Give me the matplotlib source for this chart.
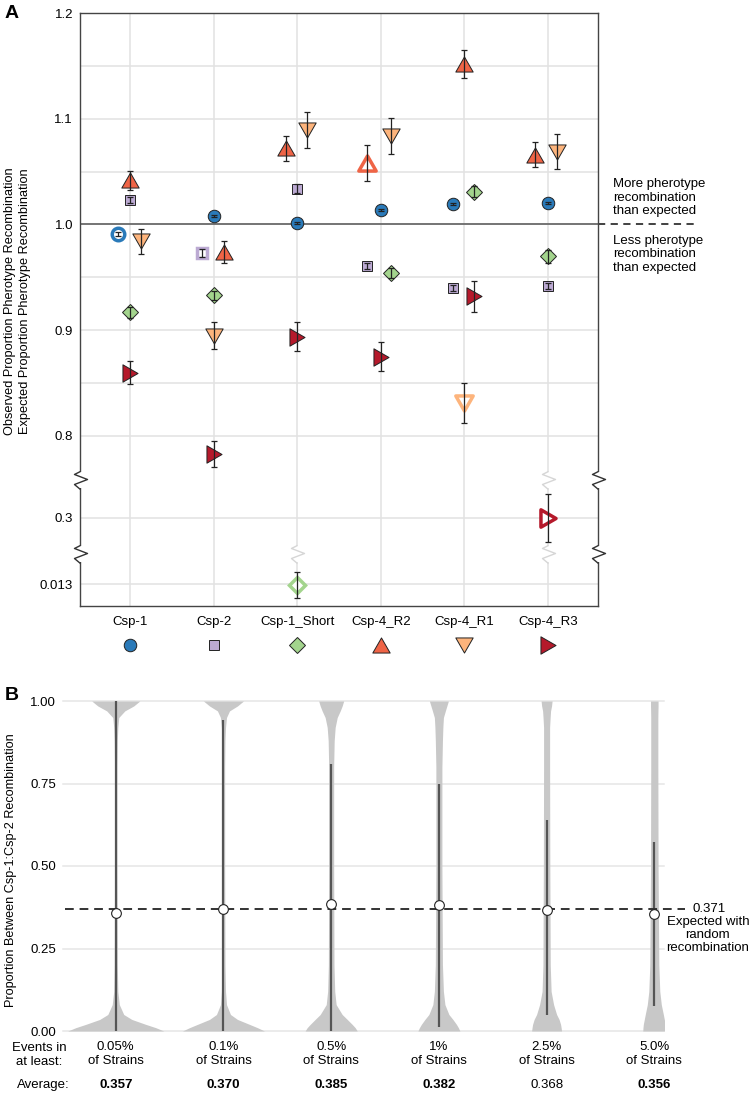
import numpy as np
import matplotlib.pyplot as plt
from matplotlib.path import Path

plt.rcParams["font.family"] = ["Liberation Sans", "DejaVu Sans"]
plt.rcParams["font.size"] = 9

# ---------------- panel A: observed / expected pherotype recombination
groups = ["Csp-1", "Csp-2", "Csp-1_Short", "Csp-4_R2", "Csp-4_R1", "Csp-4_R3"]

csp1_ratio = [0.991, 1.008, 1.001, 1.014, 1.019, 1.020]
csp1_err = [0.002, 0.001, 0.001, 0.001, 0.001, 0.001]
csp2_ratio = [1.023, 0.973, 1.034, 0.961, 0.940, 0.942]
csp2_err = [0.003, 0.004, 0.004, 0.003, 0.003, 0.003]
short_ratio = [0.917, 0.933, 0.012, 0.954, 1.031, 0.970]
short_err = [0.005, 0.004, 0.012, 0.005, 0.005, 0.006]
r2_ratio = [1.042, 0.974, 1.072, 1.058, 1.152, 1.066]
r2_err = [0.009, 0.010, 0.012, 0.017, 0.013, 0.012]
r1_ratio = [0.984, 0.895, 1.089, 1.084, 0.831, 1.069]
r1_err = [0.012, 0.013, 0.017, 0.017, 0.019, 0.017]
r3_ratio = [0.860, 0.783, 0.894, 0.875, 0.932, 0.300]
r3_err = [0.011, 0.012, 0.014, 0.014, 0.015, 0.023]

ticks_a = [0.013, 0.3, 0.8, 0.9, 1.0, 1.1, 1.2]
minor_a = [0.85, 0.95, 1.05, 1.15]

# ---------------- panel B: Csp-1:Csp-2 proportion
thresholds = ["0.05%", "0.1%", "0.5%", "1%", "2.5%", "5.0%"]
averages = [0.357, 0.370, 0.385, 0.382, 0.368, 0.356]
avg_bold = [True, True, True, True, False, True]
whisker_lo = [0.0, 0.0, 0.0, 0.012, 0.048, 0.076]
whisker_hi = [1.0, 0.942, 0.809, 0.748, 0.639, 0.573]
expected = 0.371

# violin half widths (in units of group spacing) read at these levels
violin_levels = [0, 0.01, 0.02, 0.035, 0.05, 0.08, 0.12, 0.2, 0.5, 0.8,
                 0.88, 0.92, 0.95, 0.97, 0.985, 1.0]
vw_005 = [0.446, 0.372, 0.279, 0.149, 0.074, 0.033, 0.019, 0.014, 0.011, 0.011,
          0.014, 0.019, 0.028, 0.084, 0.167, 0.223]
vw_01 = [0.381, 0.316, 0.242, 0.130, 0.065, 0.028, 0.019, 0.014, 0.011, 0.011,
         0.014, 0.019, 0.028, 0.056, 0.130, 0.186]
vw_05 = [0.242, 0.223, 0.195, 0.149, 0.102, 0.046, 0.033, 0.026, 0.023, 0.023,
         0.028, 0.037, 0.056, 0.084, 0.102, 0.116]
vw_1 = [0.195, 0.181, 0.163, 0.130, 0.093, 0.056, 0.042, 0.033, 0.028, 0.028,
        0.033, 0.037, 0.042, 0.060, 0.074, 0.088]
vw_25 = [0.139, 0.135, 0.130, 0.116, 0.093, 0.065, 0.042, 0.034, 0.030, 0.028,
         0.028, 0.028, 0.033, 0.037, 0.046, 0.051]
vw_5 = [0.107, 0.105, 0.102, 0.093, 0.084, 0.065, 0.051, 0.042, 0.035, 0.033,
        0.033, 0.033, 0.033, 0.034, 0.035, 0.035]
violin_widths = [vw_005, vw_01, vw_05, vw_1, vw_25, vw_5]


def tri(direction):
    # equilateral-ish triangle marker
    if direction == "up":
        v = [(0, 1), (-1.15, -1), (1.15, -1), (0, 1)]
    elif direction == "down":
        v = [(0, -1), (-1.15, 1), (1.15, 1), (0, -1)]
    else:
        v = [(1, 0), (-1, 1.15), (-1, -1.15), (1, 0)]
    return Path(v, closed=True)


# name, values, errors, marker, size, colour, dodge per group
series = [
    ("Csp-1", csp1_ratio, csp1_err, "o", 9, "#2a7ab9", [-0.14, 0, 0, 0, -0.14, 0]),
    ("Csp-2", csp2_ratio, csp2_err, "s", 7.5, "#bcaad3", [0, -0.14, 0, -0.16, -0.14, 0]),
    ("Csp-1_Short", short_ratio, short_err, "D", 7.7, "#a3d48d", [0, 0, 0, 0.12, 0.12, 0]),
    ("Csp-4_R2", r2_ratio, r2_err, tri("up"), 12.5, "#ef6446", [0, 0.12, -0.13, -0.16, 0, -0.155]),
    ("Csp-4_R1", r1_ratio, r1_err, tri("down"), 12.5, "#fdb47c", [0.13, 0, 0.12, 0.12, 0, 0.11]),
    ("Csp-4_R3", r3_ratio, r3_err, tri("right"), 12.5, "#b5192b", [0, 0, 0, 0, 0.12, 0]),
]

# broken y axis: three linear pieces glued together
brk_v = [-0.5, 0.0405, 0.266, 0.3355, 0.759, 2.0]
brk_p = [0.147, 0.6875, 0.6885, 0.758, 0.759, 2.0]


def fwd(v):
    return np.interp(v, brk_v, brk_p)


def inv(p):
    return np.interp(p, brk_p, brk_v)


gap_marks = [0.15, 0.55]  # values falling inside the two gaps
zig = Path([(0, 9), (-6, 6), (7, 1), (-6, -4), (0, -9)])

fig = plt.figure(figsize=(7.5, 10.94), dpi=100)

ax = fig.add_axes([80 / 750, 1 - 606 / 1094, 518 / 750, 593 / 1094])
ax.set_yscale("function", functions=(fwd, inv))
ax.set_ylim(-0.0078, 1.2)
ax.set_xlim(-0.6, 5.6)
ax.set_yticks(ticks_a)
ax.set_yticklabels([str(t) for t in ticks_a])
ax.set_yticks(minor_a, minor=True)
ax.set_xticks(range(len(groups)))
ax.set_xticklabels(groups)
ax.tick_params(axis="both", which="both", length=0)
ax.tick_params(axis="y", pad=5, labelsize=9.5)
ax.tick_params(axis="x", pad=7, labelsize=9.5)
ax.grid(True, which="both", color="#e2e2e2", lw=1.1)
ax.set_axisbelow(True)
for s in ax.spines.values():
    s.set_color("#444444")
    s.set_linewidth(1.0)

ax.axhline(1.0, color="#555555", lw=1.1, zorder=2)
ax.plot([1.0, 1.187], [1.0, 1.0], transform=ax.get_yaxis_transform(), clip_on=False,
        color="#333333", lw=1.3, ls=(0, (4, 3)))

for name, vals, errs, mk, ms, col, dodge in series:
    xs = np.arange(len(groups)) + np.array(dodge)
    for i, (x, y) in enumerate(zip(xs, vals)):
        if groups[i] == name:
            ax.plot(x, y, ls="none", marker=mk, ms=ms, mfc="white", mec=col, mew=2.5, zorder=3)
        else:
            ax.plot(x, y, ls="none", marker=mk, ms=ms, mfc=col, mec="#222222", mew=0.7, zorder=3)
    ax.errorbar(xs, vals, yerr=errs, fmt="none", ecolor="#222222", elinewidth=0.9,
                capsize=2.2, capthick=0.9, zorder=4)

# legend row of markers under the group names
for i, (name, vals, errs, mk, ms, col, dodge) in enumerate(series):
    ax.plot(i, -0.066, transform=ax.get_xaxis_transform(), clip_on=False, ls="none",
            marker=mk, ms=ms, mfc=col, mec="#222222", mew=0.7)

# axis breaks on both spines and on the gridlines that cross the breaks
for g in gap_marks:
    for xa in (0, 1):
        ax.plot(xa, g, transform=ax.get_yaxis_transform(), clip_on=False, marker="|",
                ms=11, mew=3, color="white", zorder=5)
        ax.plot(xa, g, transform=ax.get_yaxis_transform(), clip_on=False, marker=zig,
                ms=13, mfc="none", mec="#333333", mew=1.0, zorder=6)
for xg, g in [(2, 0.15), (5, 0.15), (5, 0.55)]:
    ax.plot(xg, g, marker="|", ms=11, mew=3, color="white", zorder=2.2)
    ax.plot(xg, g, marker=zig, ms=13, mfc="none", mec="#d6d6d6", mew=1.0, zorder=2.3)

ax.text(1.029, 1.007, "More pherotype\nrecombination\nthan expected", transform=ax.get_yaxis_transform(),
        ha="left", va="bottom", fontsize=9.5, linespacing=1.15)
ax.text(1.029, 0.99, "Less pherotype\nrecombination\nthan expected", transform=ax.get_yaxis_transform(),
        ha="left", va="top", fontsize=9.5, linespacing=1.15)

fig.text(17.5 / 750, 1 - 301 / 1094,
         "Observed Proportion Pherotype Recombination\nExpected Proportion Pherotype Recombination",
         rotation=90, ha="center", va="center", fontsize=9.2, multialignment="center", linespacing=1.3)
fig.text(5 / 750, 1 - 5 / 1094, "A", ha="left", va="top", fontsize=14, weight="bold")

# ---------------- panel B
ax2 = fig.add_axes([63 / 750, 1 - 1031 / 1094, 601 / 750, 330 / 1094])
ax2.set_xlim(-0.49, 5.09)
ax2.set_ylim(0, 1)
for s in ax2.spines.values():
    s.set_visible(False)
ax2.set_yticks([0, 0.25, 0.5, 0.75, 1.0])
ax2.set_yticklabels(["0.00", "0.25", "0.50", "0.75", "1.00"])
ax2.set_xticks(range(len(thresholds)))
ax2.set_xticklabels([t + "\nof Strains" for t in thresholds])
ax2.tick_params(axis="both", length=0, labelsize=9.5)
ax2.tick_params(axis="y", pad=5)
ax2.tick_params(axis="x", pad=7)
ax2.yaxis.grid(True, color="#e6e6e6", lw=1.1)
for gl in ax2.get_ygridlines():
    gl.set_clip_on(False)
ax2.set_axisbelow(True)

for i, w in enumerate(violin_widths):
    w = np.array(w)
    ax2.fill_betweenx(violin_levels, i - w, i + w, color="#c8c8c8", lw=0, zorder=2)
ax2.vlines(range(len(thresholds)), whisker_lo, whisker_hi, color="#555555", lw=1.6, zorder=3)
ax2.plot([0.003, 1.035], [expected, expected], transform=ax2.get_yaxis_transform(), clip_on=False,
         color="#333333", lw=1.4, ls=(0, (4.5, 3)), zorder=4)
ax2.plot(range(len(thresholds)), averages, ls="none", marker="o", ms=7, mfc="white",
         mec="#222222", mew=0.8, zorder=5)

ax2.text(1.048, expected, "0.371", transform=ax2.get_yaxis_transform(), ha="left", va="center",
         fontsize=9.5)
ax2.text(1.073, 0.35, "Expected with\nrandom\nrecombination", transform=ax2.get_yaxis_transform(),
         ha="center", va="top", fontsize=9.5, multialignment="center", linespacing=1.15)

ax2.text(-0.04, -0.073, "Events in\nat least:", transform=ax2.transAxes, ha="center", va="center",
         fontsize=9.5, multialignment="center", linespacing=1.15)
ax2.text(-0.033, -0.165, "Average:", transform=ax2.transAxes, ha="center", va="center", fontsize=9.5)
for i, a in enumerate(averages):
    ax2.text(i, -0.165, "%.3f" % a, transform=ax2.get_xaxis_transform(), ha="center", va="center",
             fontsize=9.5, weight="bold" if avg_bold[i] else "normal")

fig.text(11 / 750, 1 - 870 / 1094, "Proportion Between Csp-1:Csp-2 Recombination",
         rotation=90, ha="center", va="center", fontsize=9.1)
fig.text(5 / 750, 1 - 687 / 1094, "B", ha="left", va="top", fontsize=14, weight="bold")

fig.savefig("out.png", dpi=100)
